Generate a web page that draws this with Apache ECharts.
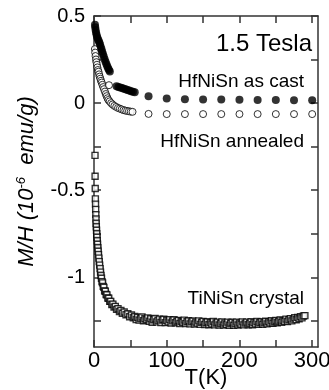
<!DOCTYPE html>
<html>
<head>
<meta charset="utf-8">
<script src="https://cdn.jsdelivr.net/npm/echarts@6/dist/echarts.min.js"></script>
<style>
html,body{margin:0;padding:0;background:#fff;}
#c{width:329px;height:390px;}
</style>
</head>
<body>
<div id="c"></div>
<script>
// HfNiSn as cast (filled circles)
const asCastT = [1.3, 1.7, 2.2, 2.8, 3.5, 4.3, 5.2, 6.2, 7.2, 8.2, 9.2, 10.2, 11.2, 12.3, 13.4, 14.6, 15.8, 17, 18.2, 19.4, 20.6, 21.8,
  31, 33.5, 36, 38.5, 41, 43.5, 46, 48.5, 51, 53.5, 56,
  75, 100, 125, 150, 175, 200, 225, 250, 275, 300];
const asCastV = [0.45, 0.435, 0.42, 0.405, 0.392, 0.38, 0.37, 0.36, 0.35, 0.338, 0.324, 0.31, 0.296, 0.282, 0.267, 0.252, 0.237, 0.224, 0.212, 0.2, 0.19, 0.181,
  0.097, 0.093, 0.09, 0.086, 0.082, 0.079, 0.075, 0.072, 0.068, 0.065, 0.062,
  0.04, 0.027, 0.022, 0.02, 0.02, 0.019, 0.018, 0.018, 0.017, 0.017];

// HfNiSn annealed (open circles)
const annealedT = [1.2, 1.6, 2.1, 2.7, 3.3, 4, 4.7, 5.4, 6.2, 7, 7.8, 8.7, 9.6, 10.6, 11.6, 12.7, 13.8, 15, 16.2, 17.4, 18.6, 19.8, 20.6,
  21.5, 23.5, 25.5, 28, 30.5, 33, 35.5, 38, 40.5, 43, 45.5, 48, 50.5, 53,
  75, 100, 125, 150, 175, 200, 225, 250, 275, 300];
const annealedV = [0.31, 0.29, 0.27, 0.25, 0.235, 0.22, 0.205, 0.19, 0.18, 0.165, 0.152, 0.14, 0.128, 0.118, 0.105, 0.092, 0.08, 0.066, 0.052, 0.04, 0.028, 0.018, 0.103,
  0.01, 0.0, -0.008, -0.016, -0.022, -0.028, -0.032, -0.036, -0.04, -0.043, -0.045, -0.047, -0.049, -0.05,
  -0.062, -0.063, -0.063, -0.063, -0.063, -0.063, -0.063, -0.063, -0.063, -0.063];

// TiNiSn crystal (open squares)
const crystalT = [1.4, 1.5, 1.7, 1.9, 2.1, 2.3, 2.5, 2.7, 2.9, 3.2, 3.5, 3.8, 4.1, 4.5, 4.9, 5.3, 5.7, 6.2, 6.7, 7.2, 7.8, 8.4, 9.0, 9.6,
  10.3, 11, 11.8, 12.7, 13.6, 14.6, 15.6, 16.7, 17.8, 19, 20.3, 21.6, 23, 24.5, 26, 27.6, 29.3, 31, 33, 35, 37, 39, 41.5, 44, 46.5, 49, 51.5, 54,
  56, 58, 60, 62, 64, 66, 68, 70, 72, 74,
  76, 78, 80, 82, 84, 86, 88, 90, 92, 94,
  96, 98, 100, 102, 104, 106, 108, 110, 112, 114,
  116, 118, 120, 122, 124, 126, 128, 130, 132, 134,
  136, 138, 140, 142, 144, 146, 148, 150, 152, 154,
  156, 158, 160, 162, 164, 166, 168, 170, 172, 174,
  176, 178, 180, 182, 184, 186, 188, 190, 192, 194,
  196, 198, 200, 202, 204, 206, 208, 210, 212, 214,
  216, 218, 220, 222, 224, 226, 228, 230, 232, 234,
  236, 238, 240, 242, 244, 246, 248, 250, 252, 254,
  256, 258, 260, 262, 264, 266, 268, 270, 272, 274,
  276, 278, 280, 282, 284, 286, 288, 290];
const crystalV = [-0.30, -0.42, -0.49, -0.55, -0.58, -0.61, -0.64, -0.665, -0.69, -0.71, -0.73, -0.75, -0.77, -0.79, -0.81, -0.83, -0.85, -0.87, -0.89, -0.91, -0.93, -0.95, -0.97, -0.99,
  -1.005, -1.025, -1.032, -1.052, -1.058, -1.078, -1.080, -1.099, -1.101, -1.119, -1.120, -1.138, -1.138, -1.156, -1.154, -1.171, -1.167, -1.184, -1.180, -1.196, -1.190, -1.206, -1.199, -1.215, -1.209, -1.226, -1.216, -1.232,
  -1.225, -1.242, -1.230, -1.246, -1.236, -1.228, -1.249, -1.238, -1.244, -1.233,
  -1.252, -1.238, -1.258, -1.244, -1.236, -1.256, -1.247, -1.240, -1.259, -1.245,
  -1.241, -1.260, -1.248, -1.256, -1.243, -1.262, -1.250, -1.244, -1.261, -1.252,
  -1.247, -1.265, -1.252, -1.258, -1.246, -1.266, -1.255, -1.249, -1.267, -1.256,
  -1.251, -1.268, -1.257, -1.263, -1.250, -1.270, -1.258, -1.253, -1.271, -1.261,
  -1.255, -1.272, -1.260, -1.268, -1.254, -1.273, -1.262, -1.257, -1.274, -1.264,
  -1.256, -1.274, -1.262, -1.270, -1.257, -1.275, -1.264, -1.258, -1.275, -1.266,
  -1.257, -1.274, -1.262, -1.269, -1.256, -1.273, -1.263, -1.257, -1.272, -1.264,
  -1.255, -1.272, -1.260, -1.267, -1.254, -1.270, -1.261, -1.255, -1.269, -1.260,
  -1.252, -1.267, -1.255, -1.262, -1.249, -1.264, -1.255, -1.248, -1.261, -1.252,
  -1.245, -1.258, -1.248, -1.253, -1.240, -1.254, -1.244, -1.237, -1.250, -1.240,
  -1.232, -1.244, -1.230, -1.238, -1.226, -1.233, -1.222, -1.220];

const xTicks = [0, 50, 100, 150, 200, 250, 300];
const xLabels = [0, 100, 200, 300];
const yTicks = [-1.25, -1, -0.75, -0.5, -0.25, 0, 0.25, 0.5];
const yLabels = [-1, -0.5, 0, 0.5];

const annotations = [
  {text: '1.5 Tesla', x: 312, y: 44, size: 24},
  {text: 'HfNiSn as cast', x: 304, y: 82, size: 19},
  {text: 'HfNiSn annealed', x: 304, y: 142, size: 19},
  {text: 'TiNiSn crystal', x: 304, y: 299, size: 19}
];

const FONT = 'Liberation Sans, Arial, Helvetica, sans-serif';
const zip = (a, b) => a.map((v, i) => [v, b[i]]);
const lineStyle = {color: '#333', width: 1.5};

const chart = echarts.init(document.getElementById('c'), null, {renderer: 'canvas'});
chart.setOption({
  animation: false,
  backgroundColor: '#fff',
  grid: {left: 94, right: 11, top: 16, bottom: 43, containLabel: false, outerBoundsMode: 'none'},
  xAxis: [{
    type: 'value', min: 0, max: 308, position: 'bottom',
    name: 'T(K)', nameLocation: 'middle', nameGap: 20, nameMoveOverlap: false,
    nameTextStyle: {fontFamily: FONT, fontSize: 22, color: '#000'},
    axisLine: {show: true, onZero: false, lineStyle: lineStyle},
    axisTick: {show: true, inside: true, length: 7, customValues: xTicks, lineStyle: lineStyle},
    axisLabel: {customValues: xLabels, fontFamily: FONT, fontSize: 22, color: '#000', margin: 3},
    splitLine: {show: false}
  }, {
    type: 'value', min: 0, max: 308, position: 'top',
    axisLine: {show: true, onZero: false, lineStyle: lineStyle},
    axisTick: {show: true, inside: true, length: 7, customValues: xTicks, lineStyle: lineStyle},
    axisLabel: {show: false},
    splitLine: {show: false}
  }],
  yAxis: [{
    type: 'value', min: -1.4, max: 0.5, position: 'left',
    name: '{a|M/H (10}{s|-6}{a|  emu/g)}', nameLocation: 'middle', nameGap: 56, nameMoveOverlap: false,
    nameTextStyle: {
      fontFamily: FONT, fontSize: 22, fontStyle: 'italic', color: '#000',
      rich: {
        a: {fontFamily: FONT, fontSize: 22, fontStyle: 'italic', color: '#000'},
        s: {fontFamily: FONT, fontSize: 13, fontStyle: 'italic', color: '#000', verticalAlign: 'top', padding: [0, 0, 10, 0]}
      }
    },
    axisLine: {show: true, onZero: false, lineStyle: lineStyle},
    axisTick: {show: true, inside: true, length: 7, customValues: yTicks, lineStyle: lineStyle},
    axisLabel: {customValues: yLabels, fontFamily: FONT, fontSize: 20, color: '#000', margin: 9},
    splitLine: {show: false}
  }, {
    type: 'value', min: -1.4, max: 0.5, position: 'right',
    axisLine: {show: true, onZero: false, lineStyle: lineStyle},
    axisTick: {show: true, inside: true, length: 7, customValues: yTicks, lineStyle: lineStyle},
    axisLabel: {show: false},
    splitLine: {show: false}
  }],
  graphic: annotations.map(a => ({
    type: 'text', x: a.x, y: a.y, silent: true,
    style: {text: a.text, fill: '#000', font: a.size + 'px ' + FONT, align: 'right', verticalAlign: 'middle'}
  })),
  series: [{
    name: 'TiNiSn crystal', type: 'scatter', xAxisIndex: 0, yAxisIndex: 0,
    data: zip(crystalT, crystalV), symbol: 'rect', symbolSize: 6,
    itemStyle: {color: '#fff', borderColor: '#000', borderWidth: 1.4}
  }, {
    name: 'HfNiSn annealed', type: 'scatter', xAxisIndex: 0, yAxisIndex: 0,
    data: zip(annealedT, annealedV), symbol: 'circle', symbolSize: 7,
    itemStyle: {color: '#fff', borderColor: '#000', borderWidth: 1}
  }, {
    name: 'HfNiSn as cast', type: 'scatter', xAxisIndex: 0, yAxisIndex: 0,
    data: zip(asCastT, asCastV), symbol: 'circle', symbolSize: 8,
    itemStyle: {color: '#000'}
  }]
});
</script>
</body>
</html>
